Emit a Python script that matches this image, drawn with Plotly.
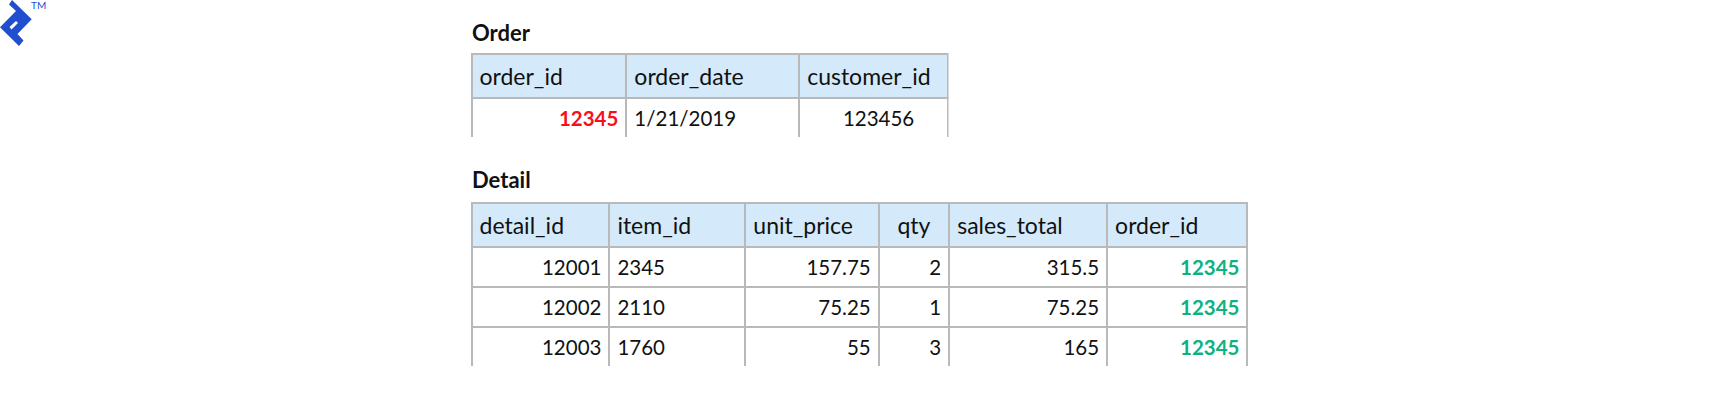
import plotly.graph_objects as go

W, H = 1720, 404

order_title = "Order"
order_headers = ["order_id", "order_date", "customer_id"]
order_id = ["12345"]
order_date = ["1/21/2019"]
customer_id = ["\u00a0\u00a0123456"]

detail_title = "Detail"
detail_headers = ["detail_id", "item_id", "unit_price", "qty", "sales_total", "order_id"]
detail_id = ["12001", "12002", "12003"]
item_id = ["2345", "2110", "1760"]
unit_price = ["157.75", "75.25", "55"]
qty = ["2", "1", "3"]
sales_total = ["315.5", "75.25", "165"]
detail_order_id = ["12345", "12345", "12345"]

FONT = "Lato"
INK = "#111111"
LINE = "#b9b9b9"
HEAD = "#d4eafa"
RED = "#fb0d1b"
GREEN = "#0db27f"
BLUE = "#204ecf"

def px_x(v):
    return v / W

def px_y(v):
    return 1 - v / H

def marked(values):
    # the span routes the text through the table's measured layout, which centres it in the row
    return [f"<span>{v}</span>" for v in values]

def table(columns, headers, edges, top, bottom, head_aligns, aligns, colors, weights):
    widths = [b - a for a, b in zip(edges, edges[1:])]
    return go.Table(
        domain=dict(x=[px_x(edges[0]), px_x(edges[-1])], y=[px_y(bottom), px_y(top)]),
        columnwidth=widths,
        header=dict(
            values=marked(headers), height=39, align=head_aligns,
            fill_color=HEAD, line=dict(color=LINE, width=2),
            font=dict(family=FONT, size=23, color=INK),
        ),
        cells=dict(
            values=[marked(c) for c in columns], height=39, align=aligns,
            fill_color="white", line=dict(color=LINE, width=2),
            font=dict(family=FONT, size=20.5, color=colors, weight=weights),
        ),
    )

fig = go.Figure()
fig.add_trace(table(
    [order_id, order_date, customer_id],
    order_headers, [471.5, 626.5, 799.5, 948], 54, 137,
    ["left", "left", "left"],
    ["right", "left", "center"], [RED, INK, INK], [700, 400, 400],
))
fig.add_trace(table(
    [detail_id, item_id, unit_price, qty, sales_total, detail_order_id],
    detail_headers, [471.5, 609.5, 745.5, 879, 949.5, 1107.5, 1248], 203, 366,
    ["left", "left", "left", "center", "left", "left"],
    ["right", "left", "right", "right", "right", "right"],
    [INK, INK, INK, INK, INK, GREEN], [400, 400, 400, 400, 400, 700],
))

def note(text, x, y, size, color, bold=False):
    fig.add_annotation(
        text=text, xref="paper", yref="paper", x=px_x(x), y=px_y(y),
        xanchor="left", yanchor="middle", showarrow=False,
        font=dict(family=FONT, size=size, color=color, weight=700 if bold else 400),
    )

note(order_title, 470, 33, 22, INK, True)
note(detail_title, 470, 180, 22, INK, True)
note("TM", 29, 5, 10, BLUE)

def poly(points, fill):
    path = "M" + "L".join(f"{px_x(x)},{px_y(y)}" for x, y in points) + "Z"
    fig.add_shape(type="path", xref="paper", yref="paper", path=path,
                  fillcolor=fill, line=dict(width=0))

poly([(12, 0), (31.7, 19.3), (17.5, 34), (23.5, 40.5), (19, 46), (0, 27.3), (16, 11), (9, 4.5)], BLUE)
poly([(9.5, 27), (16, 21), (18, 23), (11.5, 29.5)], "white")

fig.update_layout(
    width=W, height=H, autosize=False,
    margin=dict(l=0, r=0, t=0, b=0),
    paper_bgcolor="white", showlegend=False,
)
fig.write_html("out.html", config=dict(displayModeBar=False),
               post_script="document.body.style.margin='0';document.body.style.overflow='hidden';")
